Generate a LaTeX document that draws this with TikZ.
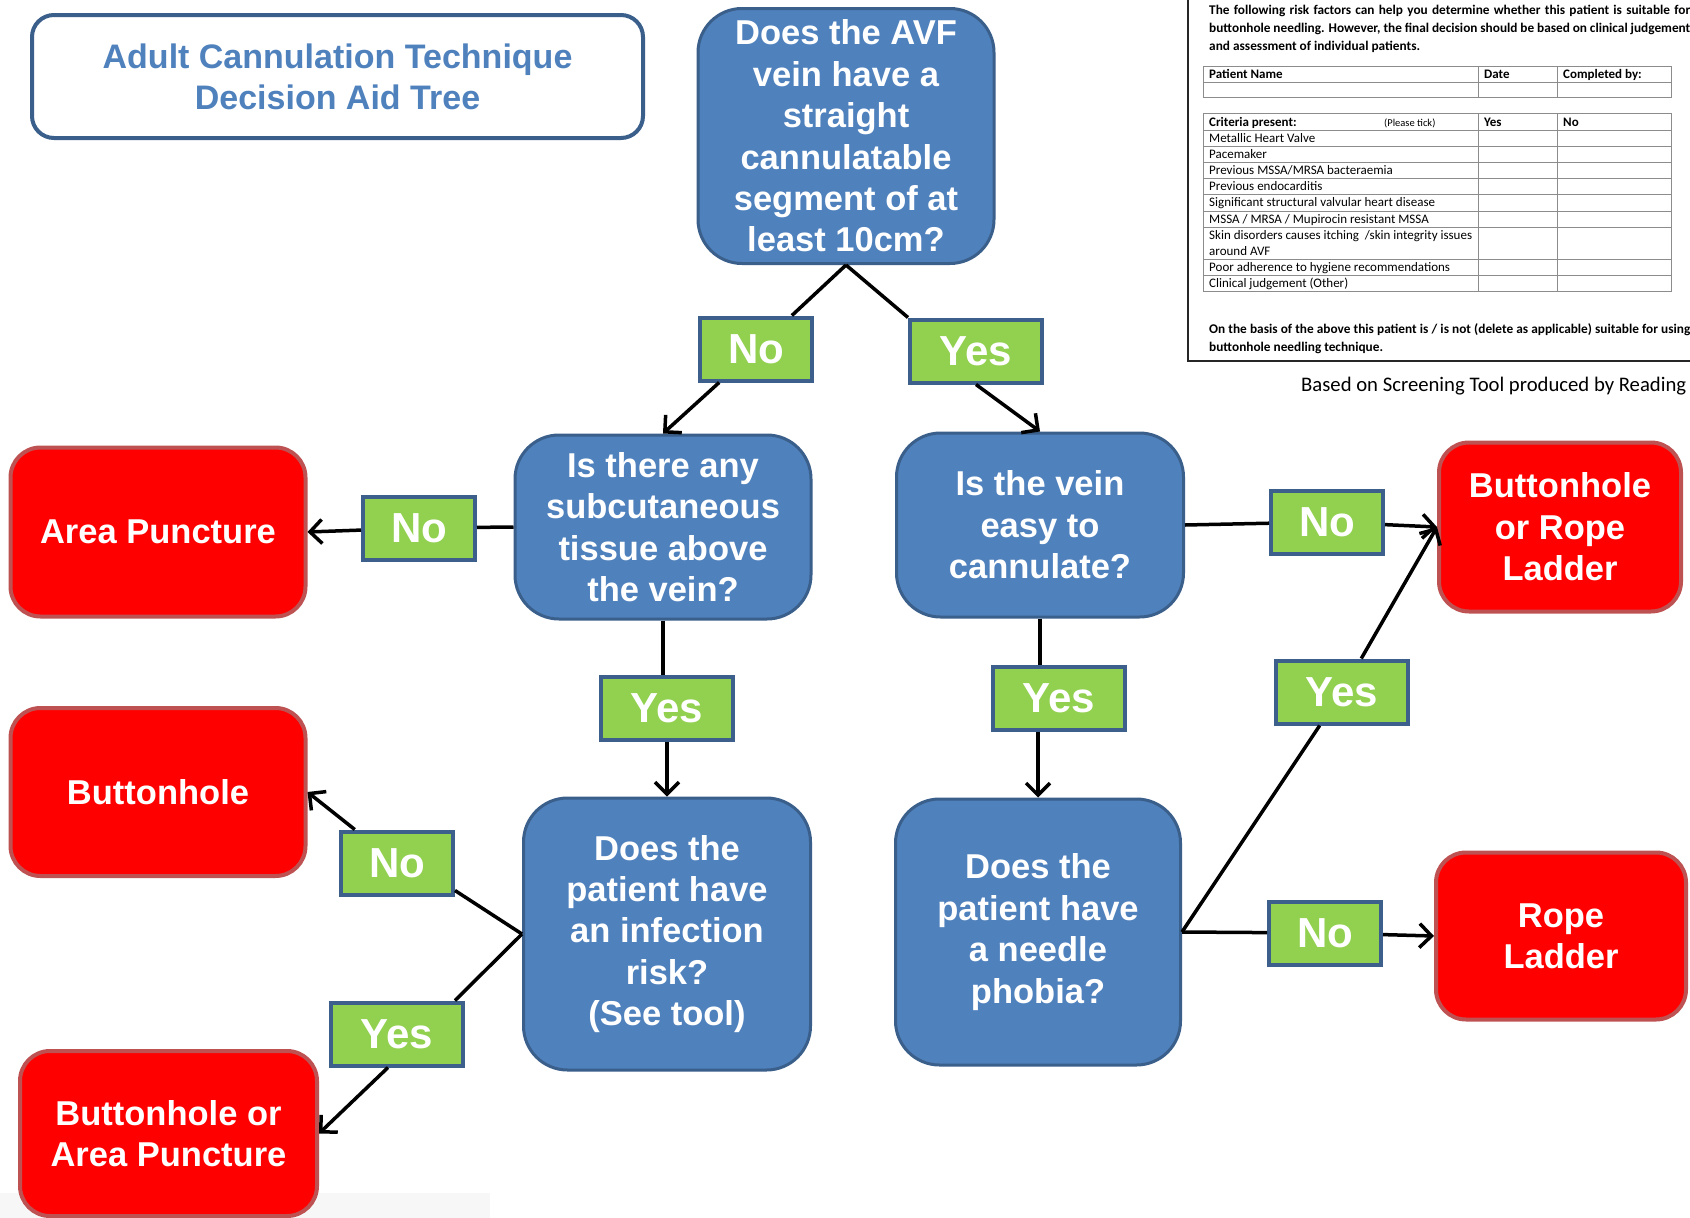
\documentclass[tikz,border=0pt]{standalone}
\usepackage{fontspec}
\setmainfont{Liberation Sans}
\newfontfamily\calibri{Carlito}
\usetikzlibrary{arrows.meta}
\definecolor{qblue}{HTML}{4F81BD}
\definecolor{qedge}{HTML}{3A5F8B}
\definecolor{rfill}{HTML}{FF0000}
\definecolor{redge}{HTML}{BE5252}
\definecolor{gfill}{HTML}{92D050}
\definecolor{gedge}{HTML}{3C5F8C}
\definecolor{titleblue}{HTML}{4F81BD}
\definecolor{tgrey}{HTML}{8C8C8C}
\newcommand{\myqfont}{\fontsize{34.5}{41.4}\selectfont\bfseries}
\newcommand{\mylabfont}{\fontsize{42}{48}\selectfont\bfseries}
\newcommand{\mytabfont}{\calibri\fontsize{13}{15.6}\selectfont}
\newcommand{\myparfont}{\calibri\bfseries\fontsize{13.3}{16}\selectfont}
\begin{document}
\begin{tikzpicture}[x=1pt,y=-1pt,
  qbox/.style={draw=qedge, fill=qblue, line width=3pt, rounded corners=44pt, text=white, font=\myqfont, align=center, inner sep=0pt},
  rbox/.style={draw=redge, fill=rfill, line width=4pt, rounded corners=30pt, text=white, font=\myqfont, align=center, inner sep=0pt},
  lab/.style={draw=gedge, fill=gfill, line width=4pt, text=white, font=\mylabfont, inner sep=0pt, minimum height=63pt},
  nolab/.style={lab, minimum width=112pt},
  yeslab/.style={lab, minimum width=132pt},
  link/.style={line width=3.5pt, black},
  arr/.style={link, -{Straight Barb[length=12pt,width=24pt]}},
  tx/.style={font=\mytabfont, inner sep=0pt, anchor=base west, text=black},
  tb/.style={font=\mytabfont\bfseries, inner sep=0pt, anchor=base west, text=black},
  px/.style={font=\myparfont, inner sep=0pt, anchor=base west, text=black},
  rule/.style={draw=tgrey, line width=1pt}
]
\useasboundingbox (0,0) rectangle (1690,1218);
\begin{scope}
\clip (0,0) rectangle (1690,1218);
\fill[white] (0,0) rectangle (1690,1218);
\fill[black!3] (0,1193) rectangle (490,1218);

% ---------- title ----------
\node[draw=qedge, line width=4pt, rounded corners=22pt, minimum width=611pt, minimum height=123pt,
      text=titleblue, font=\fontsize{34}{41}\selectfont\bfseries, align=center, inner sep=0pt]
      (title) at (337.5,76.5) {Adult Cannulation Technique\\Decision Aid Tree};

% ---------- question boxes ----------
\node[qbox, minimum width=296pt, minimum height=255pt] (top) at (846,136)
  {Does the AVF\\vein have a\\straight\\cannulatable\\segment of at\\least 10cm?};
\node[qbox, minimum width=296pt, minimum height=184pt] (q2) at (663,527)
  {Is there any\\subcutaneous\\tissue above\\the vein?};
\node[qbox, minimum width=287pt, minimum height=184pt] (q3) at (1040,525)
  {Is the vein\\easy to\\cannulate?};
\node[qbox, minimum width=287pt, minimum height=272pt] (q4) at (667,934)
  {Does the\\patient have\\an infection\\risk?\\(See tool)};
\node[qbox, minimum width=285pt, minimum height=266pt] (q5) at (1038,932)
  {Does the\\patient have\\a needle\\phobia?};

% ---------- outcome boxes ----------
\node[rbox, minimum width=295pt, minimum height=169pt] (ap) at (158,532) {Area Puncture};
\node[rbox, minimum width=295pt, minimum height=168pt] (bh) at (158,792) {Buttonhole};
\node[rbox, minimum width=297pt, minimum height=165pt] (boap) at (168.5,1133.5) {Buttonhole or\\Area Puncture};
\node[rbox, minimum width=242pt, minimum height=169pt] (brl) at (1560,527) {Buttonhole\\or Rope\\Ladder};
\node[rbox, minimum width=250pt, minimum height=167pt] (rl) at (1561,936) {Rope\\Ladder};

% ---------- labels ----------
\node[nolab] (noTop) at (756,349) {No};
\node[yeslab] (yesTop) at (976,351) {Yes};
\node[nolab] (noAP) at (419,528) {No};
\node[nolab] (noBRL) at (1327,522) {No};
\node[yeslab] (yesQ4) at (667,708) {Yes};
\node[yeslab] (yesQ5) at (1059,698) {Yes};
\node[nolab] (noBH) at (397,863) {No};
\node[yeslab] (yesBoAP) at (397,1034) {Yes};
\node[nolab] (noRL) at (1325,933) {No};
\node[yeslab] (yesBRL) at (1342,692) {Yes};

% ---------- connectors ----------
\draw[link] (top.south) -- (noTop);
\draw[arr] (noTop) -- (q2.north);
\draw[link] (top.south) -- (yesTop.north west);
\draw[arr] (yesTop.south) -- (q3.north);
\draw[link] (q2.west) -- (noAP);
\draw[arr] (noAP) -- (ap.east);
\draw[link] (q2.south) -- (q2.south |- yesQ4.north);
\draw[arr] (yesQ4.south -| q4.north) -- (q4.north);
\draw[link] (q3.east) -- (noBRL);
\draw[arr] (noBRL) -- (brl.west);
\draw[link] (q3.south) -- (q3.south |- yesQ5.north);
\draw[arr] (yesQ5.south -| q5.north) -- (q5.north);
\draw[link] (q4.west) -- ([yshift=6pt]noBH.south east);
\draw[arr] (noBH) -- (bh.east);
\draw[link] (q4.west) -- ([xshift=-10pt]yesBoAP.north east);
\draw[arr] ([xshift=-9pt]yesBoAP.south) -- (boap.east);
\draw[link] (q5.east) -- (noRL);
\draw[arr] (noRL) -- (rl.west);
\draw[link] (q5.east) -- (yesBRL);
\draw[arr] (yesBRL) -- (brl.west);

% ---------- screening tool ----------
\draw[line width=1.3pt, black!85] (1188,-5) -- (1188,361) -- (1700,361);
\node[px] (p1) at (1209,14) {\makebox[481pt][s]{The following risk factors can help you determine whether this patient is suitable for}};
\node[px] (p2) at (1209,32.3) {\makebox[481pt][s]{buttonhole needling. However, the final decision should be based on clinical judgement}};
\node[px] (p3) at (1209,50.6) {and assessment of individual patients.};

% table 1
\draw[rule] (1203,66) rectangle (1671,97);
\draw[rule] (1203,82) -- (1671,82);
\draw[rule] (1478,66) -- (1478,97);
\draw[rule] (1557,66) -- (1557,97);
\node[tb] (h1) at (1209,78) {Patient Name};
\node[tb] (h2) at (1484,78) {Date};
\node[tb] (h3) at (1563,78) {Completed by:};

% table 2
\draw[rule] (1203,113) rectangle (1671,291);
\foreach \yy in {130,146,162,178,194,211,227,259,275}
  \draw[rule] (1203,\yy) -- (1671,\yy);
\draw[rule] (1478,113) -- (1478,291);
\draw[rule] (1557,113) -- (1557,291);
\node[tb] (c0) at (1209,126) {Criteria present:};
\node[tx, font=\calibri\fontsize{10.5}{12}\selectfont] (c0b) at (1384,126) {(Please tick)};
\node[tb] (c0y) at (1484,126) {Yes};
\node[tb] (c0n) at (1563,126) {No};
\node[tx] (c1) at (1209,142) {Metallic Heart Valve};
\node[tx] (c2) at (1209,158) {Pacemaker};
\node[tx] (c3) at (1209,174) {Previous MSSA/MRSA bacteraemia};
\node[tx] (c4) at (1209,190) {Previous endocarditis};
\node[tx] (c5) at (1209,206.5) {Significant structural valvular heart disease};
\node[tx] (c6) at (1209,223) {MSSA / MRSA / Mupirocin resistant MSSA};
\node[tx] (c7) at (1209,239) {Skin disorders causes itching\ \ /skin integrity issues};
\node[tx] (c7b) at (1209,255) {around AVF};
\node[tx] (c8) at (1209,271) {Poor adherence to hygiene recommendations};
\node[tx] (c9) at (1209,287) {Clinical judgement (Other)};

\node[px] (p4) at (1209,333) {\makebox[481pt][s]{On the basis of the above this patient is / is not (delete as applicable) suitable for using}};
\node[px] (p5) at (1209,351) {buttonhole needling technique.};

\node[font=\calibri\fontsize{20.7}{24}\selectfont, inner sep=0pt, anchor=base west] (src) at (1301,391)
  {Based on Screening Tool produced by Reading};
\end{scope}
\end{tikzpicture}
\end{document}
